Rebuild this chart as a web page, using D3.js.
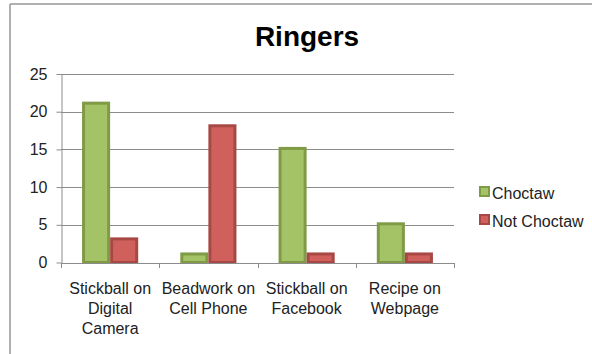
<!DOCTYPE html>
<html lang="en">
<head>
	<meta charset="utf-8">
	<title>Ringers</title>
	<script src="https://cdn.jsdelivr.net/npm/d3@7"></script>
	<style>
		body { margin: 0; background: #fff; }
		text { font-family: "Liberation Sans", Arial, sans-serif; fill: #222; }
	</style>
</head>
<body>
	<script>
		// chart data
		const categories = [["Stickball on", "Digital", "Camera"], ["Beadwork on", "Cell Phone"], ["Stickball on", "Facebook"], ["Recipe on", "Webpage"]];
		const seriesNames = ["Choctaw", "Not Choctaw"];
		const choctaw = [21, 1, 15, 5];
		const notChoctaw = [3, 18, 1, 1];
		const yTicks = [0, 5, 10, 15, 20, 25];

		const fills = ["#a4c266", "#cf605b"];
		const strokes = ["#7f9b46", "#a84844"];

		const w = 592, h = 354;
		const plotLeft = 61, plotRight = 454, plotTop = 74, plotBottom = 262.5;

		const svg = d3.select("body").append("svg")
			.attr("width", w)
			.attr("height", h);

		// outer frame (top + left edges visible)
		svg.append("line").attr("x1", 10).attr("x2", w).attr("y1", 4).attr("y2", 4)
			.attr("stroke", "#b0b0b0").attr("stroke-width", 2);
		svg.append("line").attr("x1", 10).attr("x2", 10).attr("y1", 4).attr("y2", h)
			.attr("stroke", "#b0b0b0").attr("stroke-width", 2);

		svg.append("text")
			.attr("x", 307).attr("y", 46)
			.attr("text-anchor", "middle")
			.attr("font-size", "28px").attr("font-weight", "bold")
			.style("fill", "#000")
			.text("Ringers");

		const x = d3.scaleBand().domain(d3.range(categories.length)).range([plotLeft, plotRight]);
		const bw = x.bandwidth() / 3.5;
		const y = d3.scaleLinear().domain([0, 25]).range([plotBottom, plotTop]);

		// gridlines
		svg.append("g").selectAll("line").data(yTicks.slice(1)).enter().append("line")
			.attr("x1", plotLeft).attr("x2", plotRight)
			.attr("y1", d => Math.round(y(d)) + 0.5).attr("y2", d => Math.round(y(d)) + 0.5)
			.attr("stroke", "#8c8c8c");

		// y axis
		const yAxis = svg.append("g")
			.attr("transform", `translate(${plotLeft + 0.5},0)`)
			.call(d3.axisLeft(y).tickValues(yTicks).tickSize(5).tickSizeOuter(0).tickPadding(9));
		yAxis.select(".domain").attr("stroke", "#8c8c8c");
		yAxis.selectAll(".tick line").attr("stroke", "#8c8c8c");
		yAxis.selectAll("text").attr("font-size", "16px").attr("font-family", "Liberation Sans, Arial, sans-serif").attr("fill", "#222");

		// bars
		const data = categories.map((c, i) => [choctaw[i], notChoctaw[i]]);
		const groups = svg.selectAll(".grp").data(data).enter().append("g")
			.attr("class", "grp")
			.attr("transform", (d, i) => `translate(${x(i) + 0.75 * bw},0)`);
		groups.selectAll("rect").data(d => d).enter().append("rect")
			.attr("x", (d, j) => j * bw + 1.5)
			.attr("y", d => y(d) - 1)
			.attr("width", bw - 3)
			.attr("height", d => plotBottom - y(d) + 1)
			.attr("fill", (d, j) => fills[j])
			.attr("stroke", (d, j) => strokes[j])
			.attr("stroke-width", 3);

		// x axis
		const xAxisLine = svg.append("g");
		xAxisLine.append("line")
			.attr("x1", plotLeft).attr("x2", plotRight)
			.attr("y1", Math.round(plotBottom) + 0.5).attr("y2", Math.round(plotBottom) + 0.5)
			.attr("stroke", "#8c8c8c");
		xAxisLine.selectAll(".xt").data(d3.range(categories.length + 1)).enter().append("line")
			.attr("x1", i => Math.round(plotLeft + i * x.step()) + 0.5)
			.attr("x2", i => Math.round(plotLeft + i * x.step()) + 0.5)
			.attr("y1", Math.round(plotBottom)).attr("y2", Math.round(plotBottom) + 5)
			.attr("stroke", "#8c8c8c");

		const labels = svg.selectAll(".cat").data(categories).enter().append("text")
			.attr("text-anchor", "middle")
			.attr("font-size", "16px")
			.attr("transform", (d, i) => `translate(${x(i) + x.bandwidth() / 2},294)`);
		labels.selectAll("tspan").data(d => d).enter().append("tspan")
			.attr("x", 0).attr("y", (d, k) => k * 20)
			.text(d => d);

		// legend
		const legend = svg.selectAll(".lg").data(seriesNames).enter().append("g")
			.attr("transform", (d, i) => `translate(479,${186 + i * 28})`);
		legend.append("rect")
			.attr("x", 1).attr("y", 1).attr("width", 9).attr("height", 9)
			.attr("fill", (d, i) => fills[i])
			.attr("stroke", (d, i) => strokes[i]).attr("stroke-width", 2);
		legend.append("text")
			.attr("x", 13).attr("y", 12.5)
			.attr("font-size", "16px")
			.text(d => d);
	</script>
</body>
</html>
